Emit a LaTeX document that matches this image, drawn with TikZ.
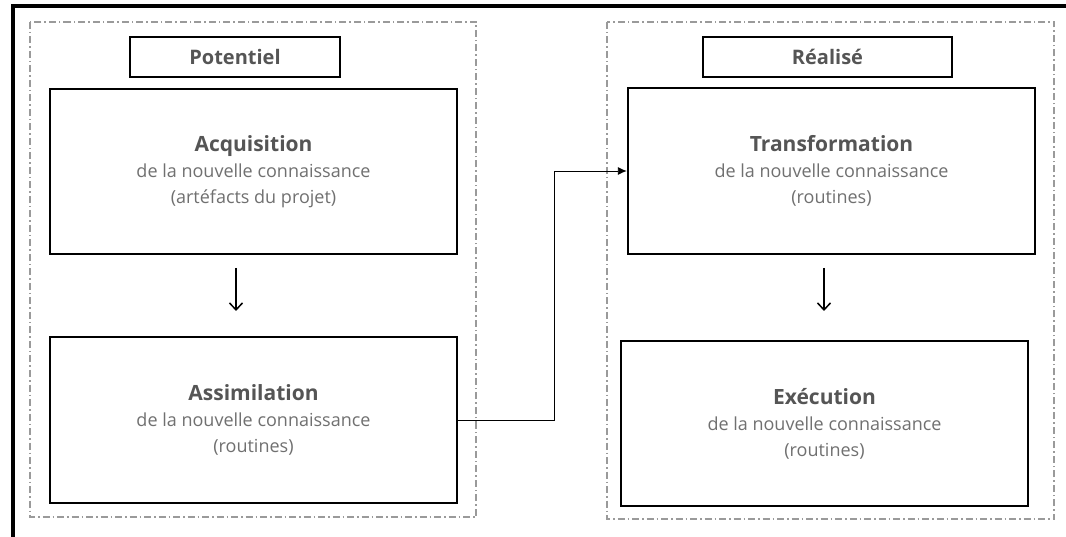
\documentclass[tikz,border=0pt]{standalone}
\usepackage{fontspec}
\setmainfont{Open Sans}
\usetikzlibrary{arrows.meta}
\definecolor{titlegray}{HTML}{555555}
\definecolor{textgray}{HTML}{707070}
\definecolor{groupgray}{HTML}{9A9A9A}
\tikzset{
  stagebox/.style={draw=black, line width=2.4pt, fill=white, minimum width=407pt,
    minimum height=165pt, align=center, inner sep=0pt, font=\fontsize{18}{26}\selectfont,
    text=textgray},
  labelbox/.style={draw=black, line width=2.2pt, fill=white, minimum height=40pt,
    inner sep=0pt, font=\bfseries\fontsize{20}{22}\selectfont, text=titlegray},
  groupbox/.style={draw=groupgray, line width=1.5pt,
    dash pattern=on 7pt off 3pt on 1.5pt off 3pt},
  flow/.style={line width=1.5pt, -{Straight Barb[length=7pt,width=13pt,line width=1.5pt]}},
  link/.style={line width=0.9pt, -{Latex[length=9pt,width=8pt]}}
}
\newcommand{\stagetitle}[1]{{\bfseries\fontsize{21}{26}\selectfont\color{titlegray}#1}}
\begin{document}
\begin{tikzpicture}[x=1pt,y=-1pt]
\useasboundingbox (0,0) rectangle (1066,537);
% outer frame (left and top edges)
\draw[line width=3.5pt] (13,537) -- (13,6) -- (1066,6);
% the two groups
\draw[groupbox] (30,22) rectangle (476,517);
\draw[groupbox] (607,22) rectangle (1054,519);
% group labels
\node[labelbox, minimum width=210pt] (pot) at (235,57) {Potentiel};
\node[labelbox, minimum width=249pt] (real) at (827.5,57) {Réalisé};
% stages
\node[stagebox] (acq) at (253.5,171.5) {\stagetitle{Acquisition}\\de la nouvelle connaissance\\(artéfacts du projet)};
\node[stagebox, minimum height=166pt] (assim) at (253.5,420) {\stagetitle{Assimilation}\\de la nouvelle connaissance\\(routines)};
\node[stagebox, minimum height=166pt] (transf) at (831.5,171) {\stagetitle{Transformation}\\de la nouvelle connaissance\\(routines)};
\node[stagebox] (exec) at (824.5,423.5) {\stagetitle{Exécution}\\de la nouvelle connaissance\\(routines)};
% flow arrows inside each group
\coordinate (a1) at (236,268);
\coordinate (a2) at (236,311);
\coordinate (b1) at (824,268);
\coordinate (b2) at (824,311);
\draw[flow] (a1) -- (a2);
\draw[flow] (b1) -- (b2);
% link from assimilation to transformation
\coordinate (bend) at (554,420);
\draw[link] (assim.east) -- (bend) |- (transf.west);
\end{tikzpicture}
\end{document}
